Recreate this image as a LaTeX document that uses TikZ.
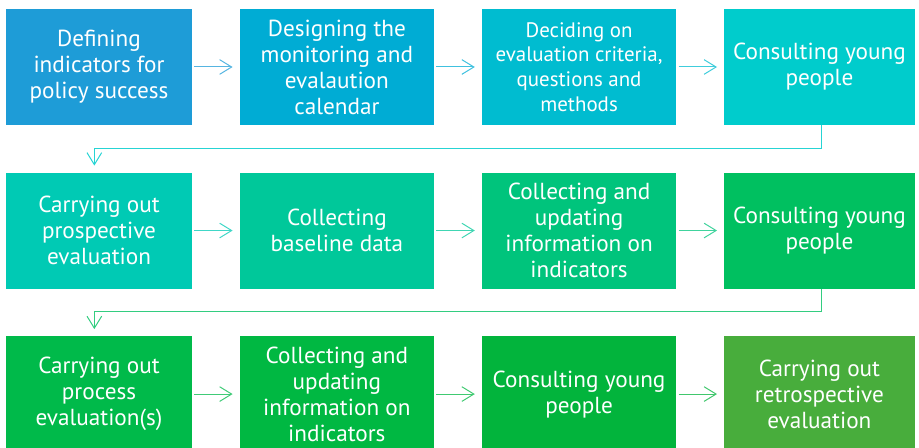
\documentclass[tikz,border=0pt]{standalone}
\usepackage{fontspec}
\setmainfont{PT Sans}
\usepackage{tikz}
\usetikzlibrary{arrows.meta, positioning, calc}
\definecolor{stageblue}{RGB}{30,156,215}
\definecolor{stagecerulean}{RGB}{0,172,212}
\definecolor{stagecyan}{RGB}{0,188,208}
\definecolor{stageteal}{RGB}{0,204,204}
\definecolor{stageturq}{RGB}{0,202,180}
\definecolor{stagemint}{RGB}{0,200,154}
\definecolor{stagejade}{RGB}{0,196,124}
\definecolor{stageemerald}{RGB}{0,192,96}
\definecolor{stagegreen}{RGB}{0,186,74}
\definecolor{stagegrass}{RGB}{0,184,66}
\definecolor{stageleaf}{RGB}{2,180,60}
\definecolor{stageolive}{RGB}{72,173,60}

\begin{document}
\begin{tikzpicture}[
        stagebox/.style={rectangle, minimum width=146pt, minimum height=87pt, inner sep=1pt, align=center, text=white, font=\fontsize{17.4}{19.5}\selectfont},
        firstcol/.style={minimum width=139.5pt},
        lastcol/.style={minimum width=143.25pt},
        flow/.style={line width=0.75pt, -{Straight Barb[length=9pt, width=11pt]}, shorten <=1.5pt, shorten >=5pt}
    ]
        \useasboundingbox (0,0) rectangle (689.25pt,-336pt);

        % first row
        \node[stagebox, firstcol, fill=stageblue] (indicators) at (74.25pt,-50.25pt) {Defining\\indicators for\\policy success};
        \node[stagebox, fill=stagecerulean, right=35.25pt of indicators] (calendar) {Designing the\\monitoring and\\evalaution\\calendar};
        \node[stagebox, fill=stagecyan, right=35.25pt of calendar, font=\fontsize{15.7}{18.6}\selectfont] (criteria) {Deciding on\\evaluation criteria,\\questions and\\methods};
        \node[stagebox, lastcol, fill=stageteal, right=35.25pt of criteria] (consultA) {Consulting young\\people};

        % second row
        \node[stagebox, firstcol, fill=stageturq, below=35.25pt of indicators] (prospective) {Carrying out\\prospective\\evaluation};
        \node[stagebox, fill=stagemint, right=35.25pt of prospective] (baseline) {Collecting\\baseline data};
        \node[stagebox, fill=stagejade, right=35.25pt of baseline] (updateA) {Collecting and\\updating\\information on\\indicators};
        \node[stagebox, lastcol, fill=stageemerald, right=35.25pt of updateA] (consultB) {Consulting young\\people};

        % third row
        \node[stagebox, firstcol, fill=stagegreen, below=35.25pt of prospective] (process) {Carrying out\\process\\evaluation(s)};
        \node[stagebox, fill=stagegrass, right=35.25pt of process] (updateB) {Collecting and\\updating\\information on\\indicators};
        \node[stagebox, fill=stageleaf, right=35.25pt of updateB] (consultC) {Consulting young\\people};
        \node[stagebox, lastcol, fill=stageolive, right=35.25pt of consultC] (retro) {Carrying out\\retrospective\\evaluation};

        \draw[flow, stageblue!75] (indicators) -- (calendar);
        \draw[flow, stagecerulean!75] (calendar) -- (criteria);
        \draw[flow, stagecyan!75] (criteria) -- (consultA);
        \draw[flow, stageteal!85, shorten <=0pt] ([xshift=1.5pt]consultA.south) -- ++(0,-17.25pt) -| ([xshift=-3.5pt]prospective.north);

        \draw[flow, stageturq!75] (prospective) -- (baseline);
        \draw[flow, stagemint!75] (baseline) -- (updateA);
        \draw[flow, stagejade!75] (updateA) -- (consultB);
        \draw[flow, stageemerald!80, shorten <=0pt] ([xshift=1.5pt]consultB.south) -- ++(0,-17.25pt) -| ([xshift=-3.5pt]process.north);

        \draw[flow, stagegreen!75] (process) -- (updateB);
        \draw[flow, stagegrass!75] (updateB) -- (consultC);
        \draw[flow, stageleaf!75] (consultC) -- (retro);
    \end{tikzpicture}
\end{document}
